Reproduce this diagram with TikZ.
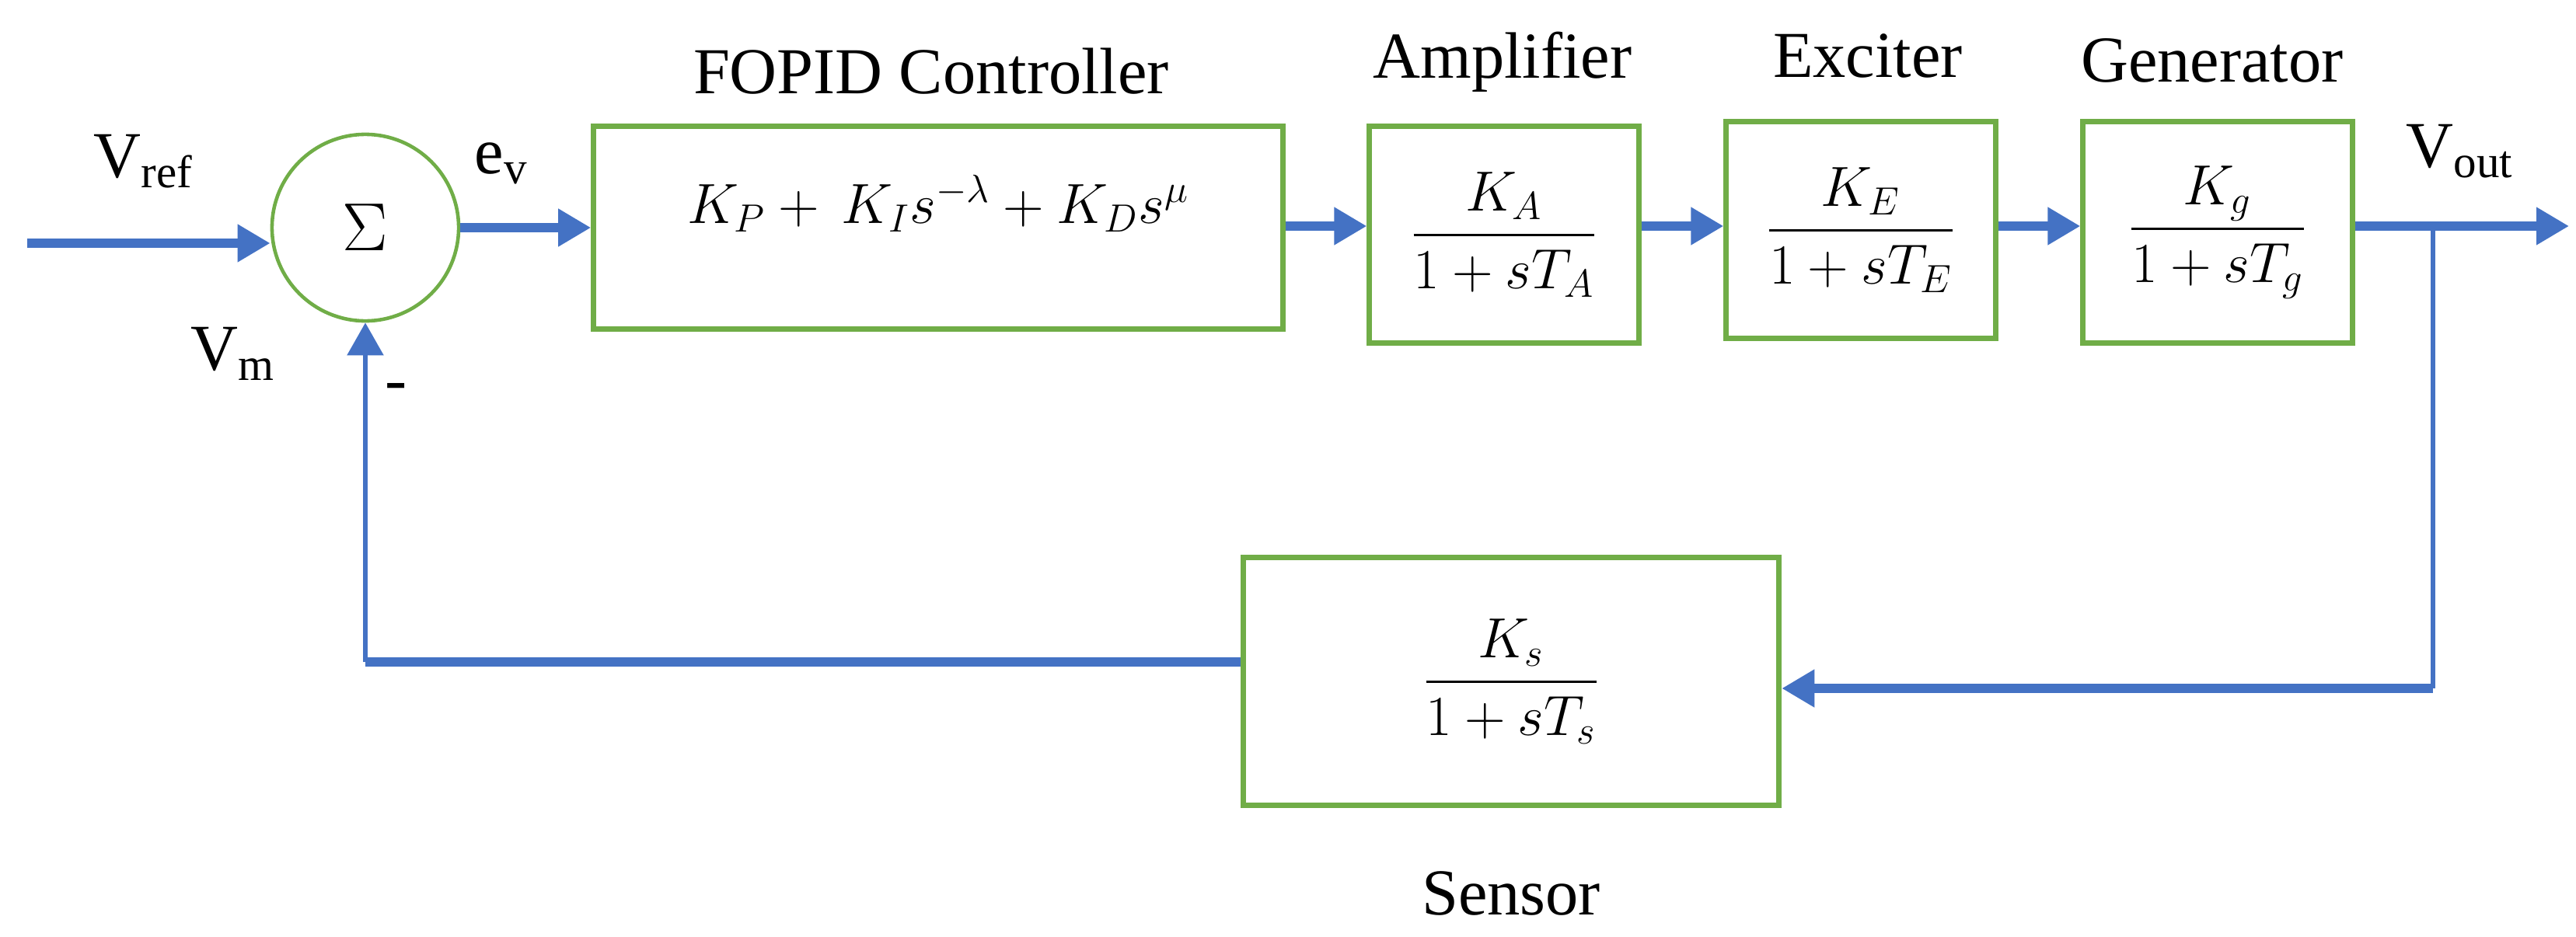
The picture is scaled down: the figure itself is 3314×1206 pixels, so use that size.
\documentclass[tikz,border=0pt]{standalone}
\usepackage{fontspec}
\setmainfont{Liberation Serif}
\usepackage{amsmath}
\usetikzlibrary{arrows.meta}
\definecolor{bl}{RGB}{68,114,196}
\definecolor{gr}{RGB}{112,173,71}
\begin{document}
\begin{tikzpicture}[x=0.01cm,y=-0.01cm,
  box/.style={draw=gr,line width=2pt,minimum width=#1,inner sep=0pt},
  thick line/.style={draw=bl,line width=3.2pt},
  arr/.style={thick line,-{Triangle[length=0.42cm,width=0.46cm]}},
  lab/.style={font=\fontsize{24}{28}\selectfont},
  mth/.style={font=\fontsize{22}{26}\selectfont}]
\useasboundingbox (0,0) rectangle (3314,1206);
\node[circle,draw=gr,line width=1.3pt,minimum size=2.4cm] (c) at (470,293) {\fontsize{30}{34}\selectfont$\Sigma$};
\node[box=8.86cm,minimum height=2.61cm] (fopid) at (1207,293) {};
\node[mth] (f) at (1207,262) {$K_P+\,K_I s^{-\lambda}+K_D s^{\mu}$};
\node[box=3.46cm,minimum height=2.78cm,mth] (amp) at (1935,302) {$\displaystyle\frac{K_A}{1+sT_A}$};
\node[box=3.46cm,minimum height=2.78cm,mth] (exc) at (2394,296) {$\displaystyle\frac{K_E}{1+sT_E}$};
\node[box=3.46cm,minimum height=2.84cm,mth] (gen) at (2853,299) {$\displaystyle\frac{K_g}{1+sT_g}$};
\node[box=6.89cm,minimum height=3.19cm,mth] (sen) at (1944,877) {$\displaystyle\frac{K_s}{1+sT_s}$};
\node[lab] (l1) at (1198,92) {FOPID Controller};
\node[lab] (l2) at (1933,80) {Amplifier};
\node[lab] (l3) at (2403,72) {Exciter};
\node[lab] (l4) at (2846,78) {Generator};
\node[lab] (l5) at (1944,1150) {Sensor};
\node[lab] (vref) at (185,208) {V\textsubscript{ref}};
\node[lab] (ev) at (645,210) {e\textsubscript{v}};
\node[lab] (vm) at (300,455) {V\textsubscript{m}};
\node[lab] (minus) at (510,505) {-};
\node[lab] (vout) at (3165,195) {V\textsubscript{out}};
\coordinate (in) at (35,313);
\coordinate (out) at (3305,291);
\coordinate (br) at (3130,291);
\coordinate (br2) at (3130,886);
\coordinate (fl) at (470,852);
\draw[arr] (in) -- (c.west |- in);
\draw[arr] (c.east) -- (fopid.west |- c.east);
\draw[arr] (fopid.east |- 0,291) -- (amp.west |- 0,291);
\draw[arr] (amp.east |- 0,291) -- (exc.west |- 0,291);
\draw[arr] (exc.east |- 0,291) -- (gen.west |- 0,291);
\draw[arr] (gen.east |- 0,291) -- (out);
\draw[bl,line width=1.6pt] (br) -- (br2);
\draw[arr] (br2) -- (sen.east |- br2);
\draw[thick line] (sen.west |- fl) -- (fl);
\draw[bl,line width=1.6pt,-{Triangle[length=0.42cm,width=0.46cm]}] (fl) -- (c.south);
\end{tikzpicture}
\end{document}
